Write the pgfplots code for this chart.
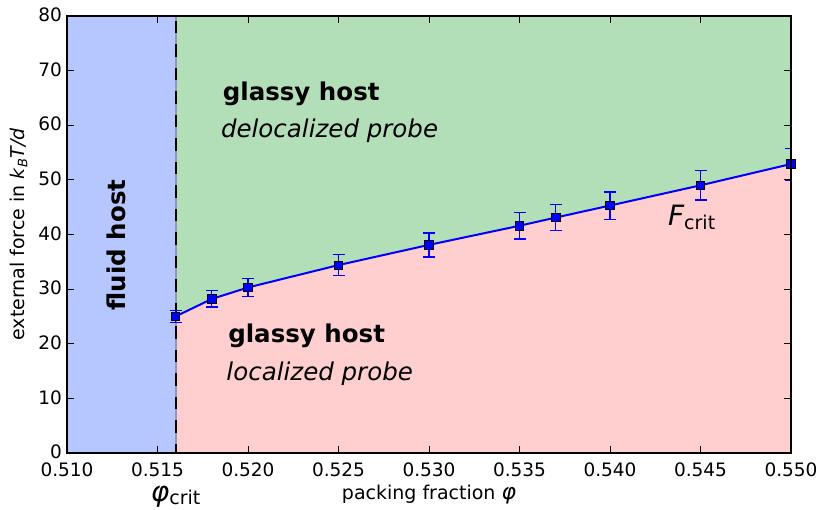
\documentclass[border=0pt]{standalone}
\usepackage{pgfplots}
\pgfplotsset{compat=1.18}
\usepackage{fontspec}
\setmainfont{DejaVu Sans}

\definecolor{fluidblue}{RGB}{181,199,254}
\definecolor{glassgreen}{RGB}{179,223,184}
\definecolor{localred}{RGB}{255,207,207}
\definecolor{edgeblue}{RGB}{135,152,205}

\newcommand\fs[1]{\fontsize{#1}{#1}\selectfont}

\begin{document}
\begin{tikzpicture}
\begin{axis}[
  scale only axis, width=724pt, height=437pt,
  xmin=0.510, xmax=0.550, ymin=0, ymax=80,
  xtick={0.510,0.515,0.520,0.525,0.530,0.535,0.540,0.545,0.550},
  xticklabels={0.510,0.515,0.520,0.525,0.530,0.535,0.540,0.545,0.550},
  ytick={0,10,20,30,40,50,60,70,80},
  tick align=inside,
  major tick length=7pt,
  tick style={line width=0.9pt, black},
  axis line style={line width=1.6pt},
  axis on top,
  clip mode=individual,
  /pgf/number format/assume math mode=true,
  ticklabel style={font=\fs{18.5}, inner sep=0pt},
  xticklabel style={yshift=-10pt},
  yticklabel style={xshift=-5pt, yshift=1pt},
]
\coordinate (sw) at (rel axis cs:0,0);
\coordinate (ne) at (rel axis cs:1,1);

% phase regions
\addplot[fill=fluidblue, draw=none] coordinates {(0.510,0) (0.516,0) (0.516,80) (0.510,80)} -- cycle;
\addplot[fill=localred, draw=none] coordinates {
  (0.516,0) (0.516,25.0) (0.518,28.2) (0.520,30.3) (0.525,34.4) (0.530,38.1)
  (0.535,41.6) (0.537,43.1) (0.540,45.3) (0.545,49.0) (0.550,52.9) (0.550,0)} -- cycle;
\addplot[fill=glassgreen, draw=none] coordinates {
  (0.516,80) (0.516,25.0) (0.518,28.2) (0.520,30.3) (0.525,34.4) (0.530,38.1)
  (0.535,41.6) (0.537,43.1) (0.540,45.3) (0.545,49.0) (0.550,52.9) (0.550,80)} -- cycle;

% glass transition of the host
\addplot[edgeblue, line width=2pt] coordinates {(0.516,0) (0.516,80)};
\addplot[black, line width=2pt, dash pattern=on 12.5pt off 11pt, dash phase=18.5pt]
  coordinates {(0.516,80) (0.516,0)};

% critical force
\addplot[blue, line width=2pt, mark=square*, mark size=4.2pt,
  mark options={fill=blue, draw=black, line width=0.7pt, solid},
  error bars/.cd, y dir=both, y explicit,
  error bar style={blue, line width=1.3pt},
  error mark options={rotate=90, blue, mark size=6pt, line width=1.3pt}]
  coordinates {
  (0.516,25.0) +- (0,1.1)
  (0.518,28.2) +- (0,1.5)
  (0.520,30.3) +- (0,1.65)
  (0.525,34.4) +- (0,1.9)
  (0.530,38.1) +- (0,2.2)
  (0.535,41.6) +- (0,2.4)
  (0.537,43.1) +- (0,2.4)
  (0.540,45.3) +- (0,2.5)
  (0.545,49.0) +- (0,2.7)
  (0.550,52.9) +- (0,2.9)
};

\node[anchor=base west, inner sep=0, font=\fs{24.5}\bfseries] at (axis cs:0.5186,64.46) {glassy host};
\node[anchor=base west, inner sep=0, font=\fs{24.5}\itshape] at (axis cs:0.5185,57.76) {delocalized probe};
\node[anchor=base west, inner sep=0, font=\fs{24.5}\bfseries] at (axis cs:0.5189,20.23) {glassy host};
\node[anchor=base west, inner sep=0, font=\fs{24.5}\itshape] at (axis cs:0.5188,13.2) {localized probe};
\node[rotate=90, inner sep=0, font=\fs{24.5}\bfseries] at (axis cs:0.5127,38.08) {fluid host};
\node[anchor=base west, inner sep=0] at (axis cs:0.5432,41.56)
  {{\fs{28}\itshape F}\raisebox{-3.5pt}{\fs{19}crit}};

\node[anchor=base, inner sep=0] at (axis cs:0.516,-8.8)
  {{\fs{28}\itshape φ}\raisebox{-3pt}{\fs{19}crit}};
\node[anchor=base, inner sep=0, font=\fs{19}] at (axis cs:0.530,-8.5)
  {packing fraction {\fs{22}\itshape φ}};
\node[rotate=90, anchor=base, inner sep=0, font=\fs{19}] at ([xshift=-42pt]axis cs:0.510,40)
  {external force in \textit{k}\raisebox{-2.5pt}{\fs{13}\itshape B}\textit{T/d}};
\end{axis}
\pgfresetboundingbox
\path ([shift={(-67pt,-57pt)}]sw) rectangle ([shift={(28pt,16pt)}]ne);
\end{tikzpicture}
\end{document}
